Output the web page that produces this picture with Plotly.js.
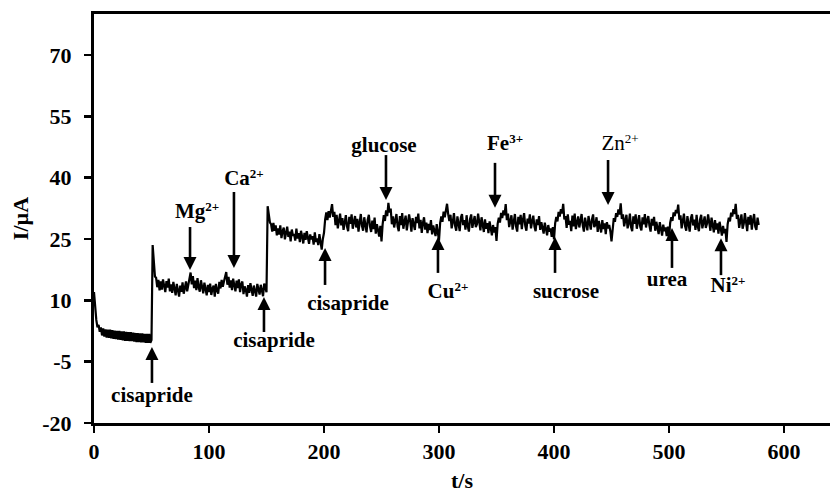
<!DOCTYPE html>
<html>
<head>
<meta charset="utf-8">
<script src="https://cdn.plot.ly/plotly-3.0.1.min.js"></script>
<style>html,body{margin:0;padding:0;background:#fff;}#chart{width:830px;height:495px;}</style>
</head>
<body>
<div id="chart"></div>
<script>
// Amperometric i-t response, sampled every 1 s (t/s), current in µA
const sampleInterval = 1;
const current = [
 12.0, 7.2, 5.2, 3.4, 4.0, 2.3, 3.4, 1.4, 3.1, 1.1,
 2.9, 0.9, 2.8, 0.8, 2.8, 0.7, 2.7, 0.6, 2.6, 0.5,
 2.5, 0.4, 2.5, 0.3, 2.4, 0.2, 2.4, 0.1, 2.3, 0.1,
 2.2, 0.0, 2.2, 0.0, 2.1, -0.1, 2.0, -0.2, 2.0, -0.2,
 1.9, -0.3, 1.9, -0.3, 1.8, -0.4, 1.8, -0.4, 1.8, -0.4,
 0.3, 23.5, 18.5, 15.8, 15.5, 13.2, 15.0, 12.4, 14.6, 12.6,
 15.1, 13.4, 12.0, 14.7, 13.1, 15.3, 12.2, 13.9, 11.8, 14.5,
 12.7, 11.2, 14.0, 12.3, 10.9, 13.6, 12.1, 14.4, 11.6, 13.0,
 14.6, 12.2, 13.8, 15.0, 16.8, 13.9, 15.9, 13.0, 14.8, 12.5,
 15.4, 13.2, 12.1, 14.9, 13.5, 11.7, 14.3, 12.6, 11.2, 13.8,
 12.0, 14.1, 11.3, 12.9, 13.6, 10.9, 14.0, 12.4, 11.6, 14.5,
 12.9, 15.0, 13.3, 14.6, 15.6, 16.9, 13.8, 15.7, 13.1, 14.9,
 12.5, 15.3, 13.7, 12.2, 14.8, 13.0, 15.1, 12.0, 13.9, 14.6,
 11.5, 13.4, 12.6, 10.9, 13.7, 11.8, 14.2, 12.4, 11.1, 13.6,
 12.2, 10.9, 14.0, 12.7, 11.4, 13.8, 12.3, 11.0, 14.1, 12.8,
 12.0, 33.0, 30.4, 29.0, 28.6, 26.8, 28.9, 27.0, 28.3, 25.9,
 27.6, 26.1, 28.3, 25.2, 26.9, 27.8, 24.9, 26.6, 28.0, 25.5,
 26.8, 24.4, 27.3, 25.8, 26.2, 24.6, 27.5, 25.1, 26.4, 24.2,
 27.0, 25.6, 23.9, 26.5, 24.8, 26.9, 25.3, 23.8, 26.1, 24.9,
 25.7, 23.6, 26.6, 24.3, 25.1, 23.5, 26.2, 24.7, 22.4, 25.0,
 26.5, 29.8, 31.5, 29.6, 31.8, 30.2, 32.6, 33.5, 30.4, 31.6,
 28.4, 30.9, 27.6, 29.8, 31.2, 28.3, 30.1, 27.2, 29.5, 30.8,
 28.0, 26.9, 30.4, 28.7, 31.0, 27.5, 29.2, 30.6, 27.8, 29.9,
 26.8, 29.4, 31.1, 28.2, 27.0, 30.3, 28.8, 26.6, 29.7, 30.9,
 28.1, 26.7, 29.5, 27.4, 30.2, 26.3, 28.6, 27.0, 25.6, 28.2,
 24.4, 28.6, 30.8, 29.4, 32.0, 30.6, 33.8, 31.5, 32.4, 28.6,
 30.5, 27.8, 29.9, 31.1, 28.0, 26.9, 30.6, 28.4, 31.3, 27.5,
 29.2, 30.7, 27.1, 28.8, 31.0, 29.3, 26.8, 30.1, 28.5, 27.2,
 30.4, 28.9, 31.2, 27.6, 29.7, 26.5, 28.9, 30.3, 27.3, 29.0,
 26.4, 28.7, 27.2, 29.6, 26.1, 28.3, 27.0, 25.7, 28.6, 26.2,
 24.6, 28.9, 30.5, 29.2, 31.7, 30.3, 32.4, 33.6, 31.0, 29.4,
 30.9, 27.6, 29.1, 31.3, 28.2, 27.0, 30.5, 28.7, 26.9, 30.2,
 31.1, 28.4, 29.6, 27.3, 30.8, 28.1, 26.8, 29.9, 31.0, 27.7,
 29.4, 30.6, 27.9, 28.6, 31.2, 29.0, 27.1, 30.3, 28.3, 26.7,
 29.8, 27.5, 28.9, 26.4, 29.3, 27.8, 25.9, 28.4, 26.6, 27.9,
 24.5, 28.7, 30.2, 29.0, 31.4, 30.1, 32.0, 30.8, 33.5, 29.6,
 31.2, 27.9, 29.4, 30.8, 27.3, 28.9, 31.1, 28.0, 26.8, 30.4,
 28.6, 30.9, 27.4, 29.7, 31.3, 28.2, 27.0, 30.0, 28.8, 31.0,
 27.6, 29.3, 30.7, 28.0, 26.9, 29.8, 28.4, 30.6, 27.2, 29.1,
 27.5, 26.3, 29.0, 27.8, 25.9, 28.4, 26.8, 27.6, 25.5, 27.9,
 24.9, 28.8, 30.4, 29.3, 31.6, 30.5, 32.3, 31.2, 33.6, 29.8,
 30.6, 27.7, 31.0, 28.5, 29.4, 26.9, 30.7, 28.1, 31.2, 27.4,
 29.0, 30.5, 27.8, 29.9, 31.1, 28.3, 26.8, 30.2, 28.9, 27.1,
 30.6, 28.7, 27.3, 29.8, 31.0, 27.9, 28.5, 30.3, 26.7, 29.4,
 28.0, 26.6, 29.6, 27.4, 28.8, 26.2, 29.1, 27.6, 28.4, 26.9,
 24.4, 28.5, 30.1, 29.2, 31.3, 30.4, 32.2, 31.0, 33.7, 29.9,
 31.0, 28.1, 29.5, 30.9, 27.6, 28.8, 31.2, 27.9, 26.9, 30.5,
 28.7, 31.0, 27.5, 29.6, 30.8, 28.0, 27.1, 30.3, 28.6, 31.1,
 27.8, 29.5, 30.6, 28.2, 26.8, 29.9, 28.3, 30.4, 27.0, 29.2,
 27.4, 26.2, 29.1, 27.7, 25.8, 28.5, 26.9, 27.8, 25.7, 28.0,
 25.0, 28.9, 30.3, 29.4, 31.5, 30.6, 32.1, 31.3, 33.4, 29.7,
 30.8, 27.6, 29.3, 31.2, 28.1, 27.0, 30.6, 28.6, 26.8, 30.1,
 31.0, 28.3, 29.7, 27.2, 30.9, 28.0, 26.9, 29.8, 30.9, 27.6,
 29.3, 30.5, 27.7, 28.7, 31.0, 28.9, 27.0, 30.2, 28.2, 26.6,
 29.6, 27.3, 28.8, 26.3, 29.2, 27.6, 25.8, 28.2, 26.4, 27.5,
 24.3, 28.6, 30.2, 29.3, 31.4, 30.5, 32.3, 31.1, 33.6, 29.9,
 30.9, 27.7, 29.2, 31.0, 27.5, 28.7, 31.3, 28.1, 26.9, 30.4,
 28.5, 30.8, 27.3, 29.6, 31.1, 28.0, 27.2, 30.2, 28.4
];
const time = current.map((_, i) => i * sampleInterval);

// Injection events
const eventNames   = ['cisapride', 'Mg', 'Ca', 'cisapride', 'cisapride', 'glucose', 'Cu', 'Fe', 'sucrose', 'Zn', 'urea', 'Ni'];
const eventCharges = ['', '2+', '2+', '', '', '', '2+', '3+', '', '2+', '', '2+'];
const eventTimes = [50.4, 83.5, 121.7, 147.8, 200.9, 253.9, 299.1, 348.7, 400.9, 447, 502.6, 545.2];
const eventTipCurrent = [-1.4, 17.4, 17.9, 10.8, 22.8, 34.5, 25.5, 32.6, 25.5, 33.3, 27.7, 25.2];

const xTicks = [0, 100, 200, 300, 400, 500, 600];
const yTicks = [-20, -5, 10, 25, 40, 55, 70];

// ---- layout-only placement of arrows / labels ----
const X_RANGE = [0, 640], Y_RANGE = [-20, 80];
const M = {l: 94, r: 0, t: 14, b: 72};
const pxPerX = (830 - M.l - M.r) / (X_RANGE[1] - X_RANGE[0]);
const pxPerY = (495 - M.t - M.b) / (Y_RANGE[1] - Y_RANGE[0]);
const arrowTailPx = [36, -43, -76, 35, 37, -45, 36, -45, 36, -45, 40, 37]; // + : tail below tip
const labelPos = [
  [50.4, -13.6], [89.6, 31.3], [130.4, 39.4], [156.5, -0.1], [220.9, 9.0], [252.2, 47.5],
  [307.8, 11.8], [357.4, 48.0], [410.4, 11.8], [457.4, 48.0], [498.3, 14.7], [551.3, 13.4]
];
const labelBold = [true, true, true, true, true, true, true, true, true, false, true, true];

const FONT_NAME = 'Liberation Serif';
const FONT = '"Liberation Serif", "Times New Roman", serif';
const LABEL_SIZE = 21, SUP_SIZE = 13, SUP_RAISE_PX = 5;

const ctx = document.createElement('canvas').getContext('2d');
function textWidth(str, size, bold) {
  ctx.font = (bold ? 'bold ' : '') + size + 'px "' + FONT_NAME + '"';
  return ctx.measureText(str).width;
}

const shaftX = [], shaftY = [];
const headX = [], headY = [], headSym = [];
eventTimes.forEach((t, i) => {
  const tip = eventTipCurrent[i];
  const dir = arrowTailPx[i] > 0 ? 1 : -1;            // 1 => arrow points up
  const tail = tip - arrowTailPx[i] / pxPerY;
  const shaftEnd = tip - dir * 8 / pxPerY;
  shaftX.push(t, t, null); shaftY.push(tail, shaftEnd, null);
  headX.push(t); headY.push(tip); headSym.push(dir > 0 ? 'arrow-up' : 'arrow-down');
});

// label pieces: plain labels centred; charged labels split into base + superscript
const pieces = {boldBase: [], normBase: [], boldSup: [], normSup: []};
function addPiece(list, x, y, text, pos) { list.push({x, y, text, pos}); }
eventNames.forEach((name, i) => {
  const b = labelBold[i];
  const [cx, cy] = labelPos[i];
  const baseList = b ? pieces.boldBase : pieces.normBase;
  if (!eventCharges[i]) { addPiece(baseList, cx, cy, name, 'middle center'); return; }
  const wBase = textWidth(name, LABEL_SIZE, b);
  const wSup = textWidth(eventCharges[i], SUP_SIZE, b);
  const joinX = cx + ((wBase - wSup) / 2) / pxPerX;
  addPiece(baseList, joinX, cy, name, 'middle left');
  addPiece(b ? pieces.boldSup : pieces.normSup, joinX, cy + SUP_RAISE_PX / pxPerY, eventCharges[i], 'middle right');
});
function textTrace(list, size, bold) {
  return {
    x: list.map(p => p.x), y: list.map(p => p.y), text: list.map(p => p.text),
    textposition: list.map(p => p.pos),
    type: 'scatter', mode: 'text', cliponaxis: false, hoverinfo: 'skip',
    textfont: {family: FONT, size: size, color: '#000', weight: bold ? 'bold' : 'normal'}
  };
}

const traces = [
  {x: time, y: current, type: 'scatter', mode: 'lines',
   line: {color: '#000', width: 2.2}, hoverinfo: 'skip'},
  {x: shaftX, y: shaftY, type: 'scatter', mode: 'lines',
   line: {color: '#000', width: 2.6}, hoverinfo: 'skip', cliponaxis: false},
  {x: headX, y: headY, type: 'scatter', mode: 'markers',
   marker: {symbol: headSym, size: 13, color: '#000', line: {width: 0}}, hoverinfo: 'skip', cliponaxis: false},
  textTrace(pieces.boldBase, LABEL_SIZE, true),
  textTrace(pieces.normBase, LABEL_SIZE, false),
  textTrace(pieces.boldSup, SUP_SIZE, true),
  textTrace(pieces.normSup, SUP_SIZE, false)
];

const layout = {
  width: 830, height: 495,
  margin: M,
  paper_bgcolor: '#fff', plot_bgcolor: '#fff',
  showlegend: false,
  font: {family: FONT, color: '#000'},
  xaxis: {
    range: X_RANGE, tickvals: xTicks, ticktext: xTicks.map(String),
    showgrid: false, zeroline: false, showline: true, linewidth: 3, linecolor: '#000', mirror: true,
    ticks: 'outside', ticklen: 7, tickwidth: 2.5, tickcolor: '#000',
    tickfont: {family: FONT, size: 22, color: '#000', weight: 'bold'},
    title: {text: 't/s', font: {family: FONT, size: 22, color: '#000', weight: 'bold'}, standoff: 10}
  },
  yaxis: {
    range: Y_RANGE, tickvals: yTicks, ticktext: yTicks.map(String),
    showgrid: false, zeroline: false, showline: true, linewidth: 3, linecolor: '#000', mirror: false,
    ticks: 'outside', ticklen: 7, tickwidth: 2.5, tickcolor: '#000', ticklabelstandoff: 8,
    tickfont: {family: FONT, size: 22, color: '#000', weight: 'bold'},
    title: {text: 'I/µA', font: {family: FONT, size: 22, color: '#000', weight: 'bold'}, standoff: 8}
  }
};

Plotly.newPlot('chart', traces, layout, {staticPlot: true, displayModeBar: false});
</script>
</body>
</html>
